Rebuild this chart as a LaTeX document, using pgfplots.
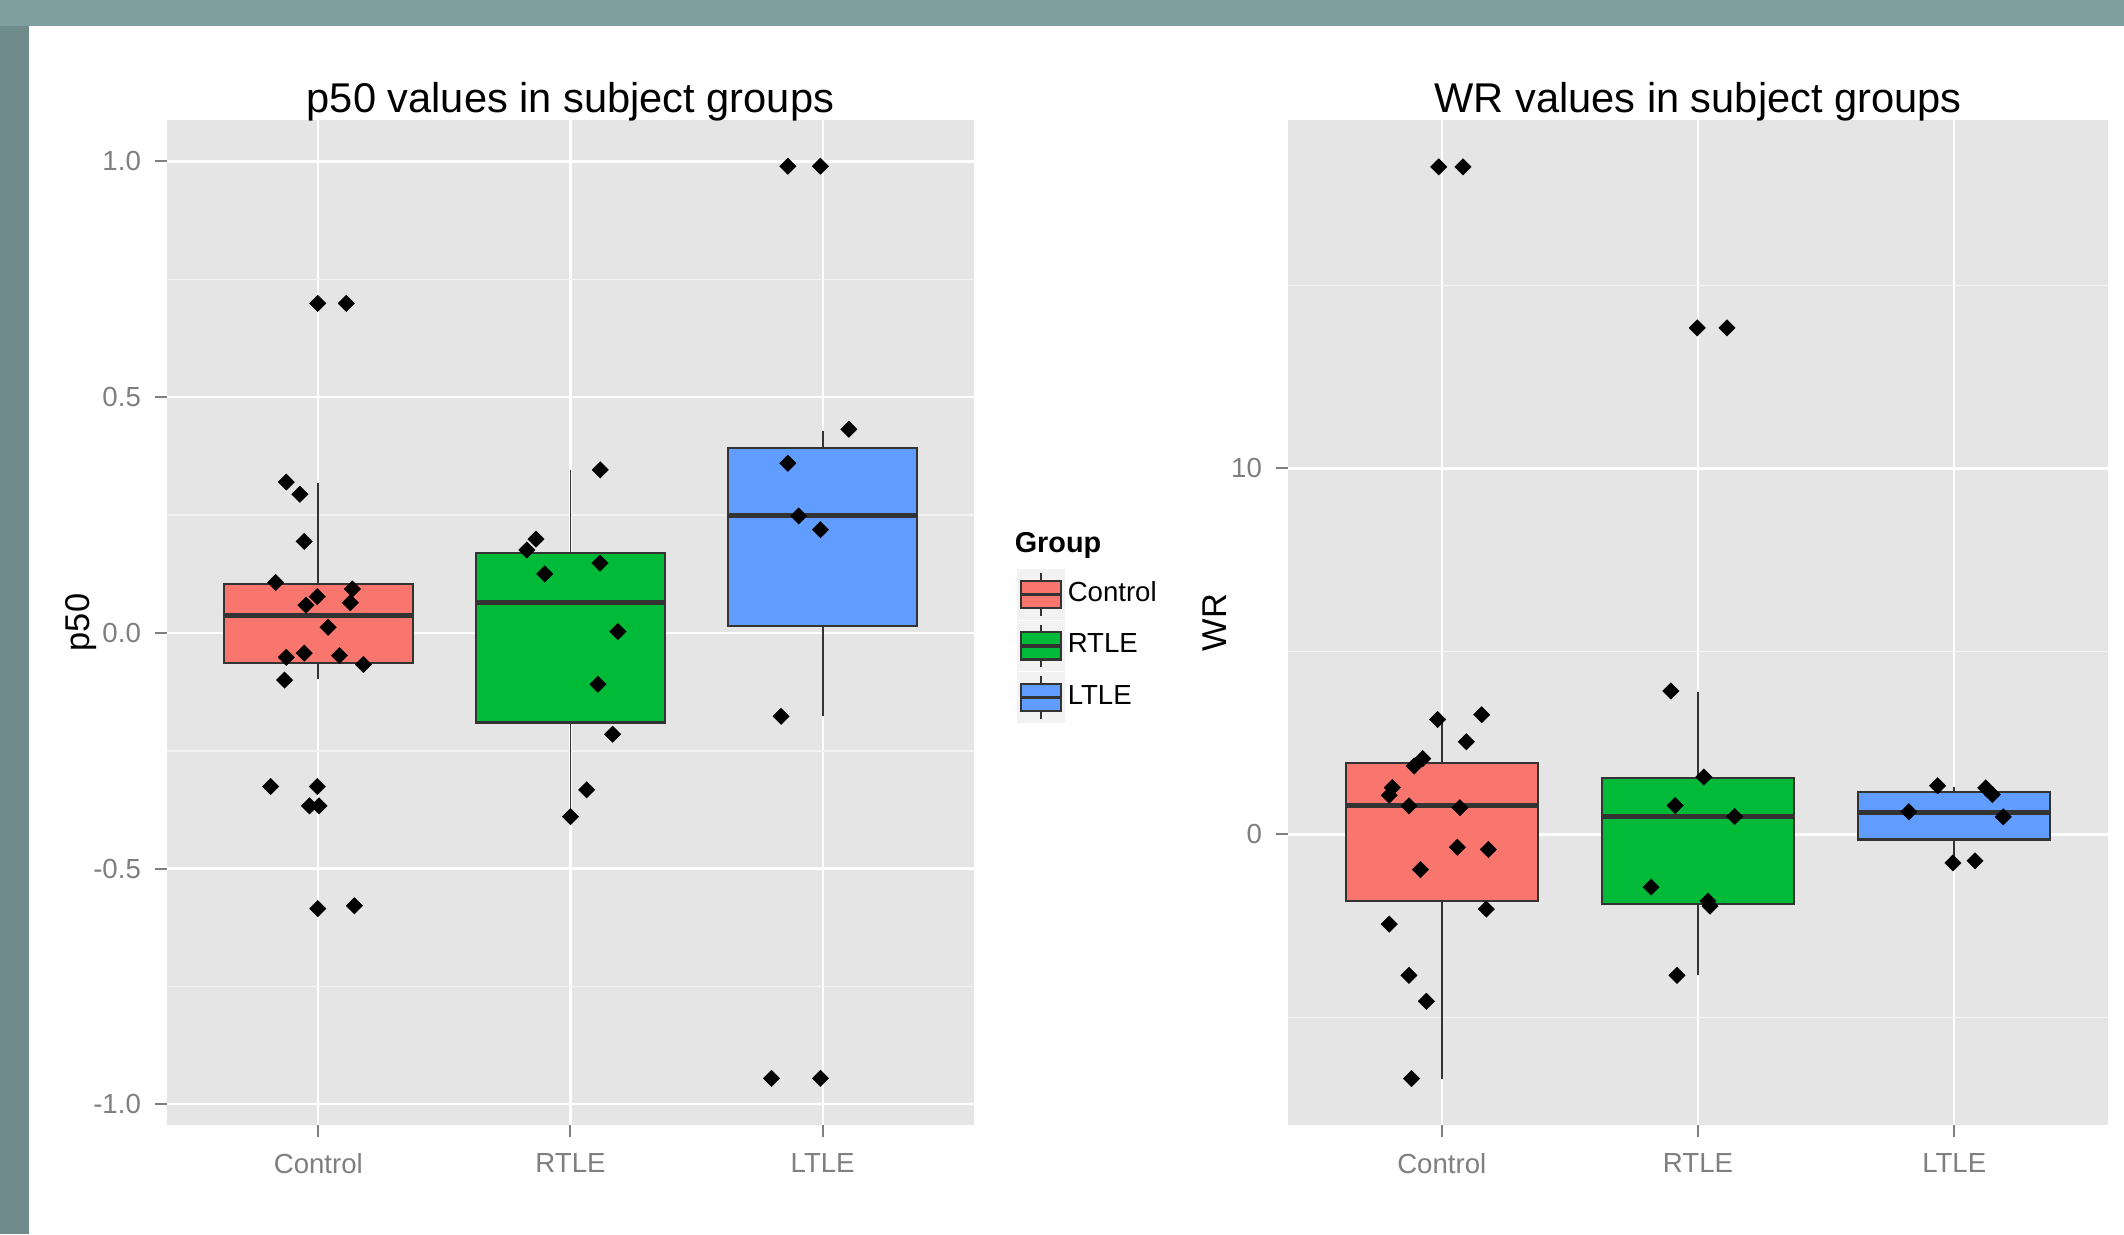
\documentclass[border=0pt]{standalone}
\usepackage{fontspec}
\setmainfont{Liberation Sans}
\usepackage{pgfplots}
\pgfplotsset{compat=1.18}
\usepgfplotslibrary{statistics}

\definecolor{ggred}{HTML}{F8766D}
\definecolor{gggreen}{HTML}{00BA38}
\definecolor{ggblue}{HTML}{619CFF}
\definecolor{ggpanel}{HTML}{E5E5E5}
\definecolor{ggminor}{HTML}{F2F2F2}
\definecolor{ggline}{HTML}{333333}
\definecolor{ggtick}{HTML}{7F7F7F}
\definecolor{framegray}{HTML}{7E9E9F}
\definecolor{framegrayL}{HTML}{6F8B8C}

\pgfplotsset{
  ggbase/.style={
    scale only axis,
    height=251.25pt,
    xmin=0.4, xmax=3.6,
    xtick={1,2,3},
    xticklabels={Control,RTLE,LTLE},
    axis background/.style={fill=ggpanel},
    axis line style={draw=none},
    tick align=outside,
    tick pos=left,
    major tick length=3pt,
    minor tick length=0pt,
    tick style={draw=ggtick, line width=0.5pt},
    xmajorgrids, ymajorgrids, yminorgrids,
    major grid style={draw=white, line width=0.55pt},
    minor grid style={draw=ggminor, line width=0.4pt},
    /pgf/number format/assume math mode=true,
    ticklabel style={font=\fontsize{6.9}{8}\selectfont, text=ggtick},
    xticklabel style={yshift=-0.6pt},
    every axis title/.style={at={(0.5,1)}, anchor=base, yshift=2pt, font=\fontsize{10.4}{12}\selectfont},
    clip=false,
    boxplot/every whisker/.style={line width=0.45pt},
    boxplot/every median/.style={line width=1.25pt},
  },
  ggbox/.style={draw=ggline, line width=0.55pt, fill=#1, forget plot},
  dot/.style={only marks, mark=square*, mark size=1.45pt, color=black,
    mark options={rotate=45, fill=black, draw=black, line width=0.1pt}, forget plot},
}

\begin{document}
\begin{tikzpicture}
\fill[framegray] (0pt,0pt) rectangle (531pt,-308.5pt);
\fill[framegrayL] (0pt,-6.5pt) rectangle (7.25pt,-308.5pt);
\fill[white] (7.25pt,-6.5pt) rectangle (531pt,-308.5pt);

% ---------------- left panel: p50 ----------------
\begin{axis}[ggbase,
  at={(41.75pt,-30pt)}, anchor=north west,
  width=201.75pt,
  ymin=-1.044, ymax=1.088,
  ytick={-1,-0.5,0,0.5,1},
  yticklabels={-1.0,-0.5,0.0,0.5,1.0},
  minor ytick={-0.75,-0.25,0.25,0.75},
  title={p50 values in subject groups},
  ylabel={p50},
  every axis y label/.style={at={(axis description cs:-0.1066,0.5)}, rotate=90, anchor=center, font=\fontsize{8.6}{10}\selectfont},
  legend style={at={(1.052,0.554)}, anchor=north west, draw=none, fill=none,
    inner sep=0pt, row sep=0.25pt, font=\fontsize{6.9}{8}\selectfont,
    nodes={inner sep=0.6pt},
    /tikz/every even column/.append style={column sep=1.6pt}},
  legend cell align=left,
]
\addlegendimage{legend image code/.code={
  \fill[ggminor] (0pt,-6.125pt) rectangle (11.75pt,6.125pt);
  \draw[ggline, line width=0.45pt] (5.875pt,-5.3pt) -- (5.875pt,5.3pt);
  \filldraw[fill=ggred, draw=ggline, line width=0.55pt] (0.8pt,-3.4pt) rectangle (10.95pt,3.4pt);
  \draw[ggline, line width=0.8pt] (0.8pt,0pt) -- (10.95pt,0pt);}}
\addlegendentry{Control}
\addlegendimage{legend image code/.code={
  \fill[ggminor] (0pt,-6.125pt) rectangle (11.75pt,6.125pt);
  \draw[ggline, line width=0.45pt] (5.875pt,-5.3pt) -- (5.875pt,5.3pt);
  \filldraw[fill=gggreen, draw=ggline, line width=0.55pt] (0.8pt,-3.4pt) rectangle (10.95pt,3.4pt);
  \draw[ggline, line width=0.8pt] (0.8pt,0pt) -- (10.95pt,0pt);}}
\addlegendentry{RTLE}
\addlegendimage{legend image code/.code={
  \fill[ggminor] (0pt,-6.125pt) rectangle (11.75pt,6.125pt);
  \draw[ggline, line width=0.45pt] (5.875pt,-5.3pt) -- (5.875pt,5.3pt);
  \filldraw[fill=ggblue, draw=ggline, line width=0.55pt] (0.8pt,-3.4pt) rectangle (10.95pt,3.4pt);
  \draw[ggline, line width=0.8pt] (0.8pt,0pt) -- (10.95pt,0pt);}}
\addlegendentry{LTLE}

\addplot[ggbox=ggred, boxplot prepared={draw direction=y, draw position=1, box extend=0.75, whisker extend=0,
  lower whisker=-0.098, lower quartile=-0.064, median=0.036, upper quartile=0.104, upper whisker=0.317}] coordinates {};
\addplot[ggbox=gggreen, boxplot prepared={draw direction=y, draw position=2, box extend=0.75, whisker extend=0,
  lower whisker=-0.390, lower quartile=-0.190, median=0.064, upper quartile=0.169, upper whisker=0.346}] coordinates {};
\addplot[ggbox=ggblue, boxplot prepared={draw direction=y, draw position=3, box extend=0.75, whisker extend=0,
  lower whisker=-0.177, lower quartile=0.015, median=0.248, upper quartile=0.392, upper whisker=0.429}] coordinates {};

\addplot[dot] coordinates {
 (0.873,0.320) (0.927,0.294) (0.944,0.194) (0.831,0.107) (0.996,0.077)
 (0.951,0.059) (1.135,0.093) (1.127,0.064) (1.039,0.012) (0.873,-0.052)
 (0.944,-0.043) (1.084,-0.048) (1.179,-0.067) (0.866,-0.100) (0.811,-0.326)
 (0.996,-0.326) (0.965,-0.367) (1.003,-0.367) (0.998,0.699) (1.111,0.699)
 (0.998,-0.585) (1.143,-0.579)};
\addplot[dot] coordinates {
 (1.863,0.199) (1.827,0.176) (1.898,0.125) (2.117,0.148) (2.188,0.003)
 (2.109,-0.109) (2.118,0.346) (2.167,-0.215) (2.064,-0.333) (2.000,-0.390)};
\addplot[dot] coordinates {
 (2.862,0.990) (2.991,0.990) (3.104,0.432) (2.862,0.360) (2.905,0.248)
 (2.991,0.219) (2.835,-0.177) (2.797,-0.945) (2.991,-0.945)};

\node[anchor=base west, inner sep=0pt, font=\bfseries\fontsize{7.2}{8}\selectfont] at (rel axis cs:1.0496,0.5692) {Group};
\end{axis}

% ---------------- right panel: WR ----------------
\begin{axis}[ggbase,
  at={(322pt,-30pt)}, anchor=north west,
  width=205pt,
  ymin=-7.94, ymax=19.52,
  ytick={0,10},
  yticklabels={0,10},
  minor ytick={-5,5,15},
  title={WR values in subject groups},
  ylabel={WR},
  every axis y label/.style={at={(axis description cs:-0.089,0.5)}, rotate=90, anchor=center, font=\fontsize{8.6}{10}\selectfont},
]
\addplot[ggbox=ggred, boxplot prepared={draw direction=y, draw position=1, box extend=0.75, whisker extend=0,
  lower whisker=-6.67, lower quartile=-1.82, median=0.79, upper quartile=1.96, upper whisker=3.15}] coordinates {};
\addplot[ggbox=gggreen, boxplot prepared={draw direction=y, draw position=2, box extend=0.75, whisker extend=0,
  lower whisker=-3.85, lower quartile=-1.90, median=0.49, upper quartile=1.54, upper whisker=3.90}] coordinates {};
\addplot[ggbox=ggblue, boxplot prepared={draw direction=y, draw position=3, box extend=0.75, whisker extend=0,
  lower whisker=-0.78, lower quartile=-0.14, median=0.61, upper quartile=1.16, upper whisker=1.30}] coordinates {};

\addplot[dot] coordinates {
 (0.984,3.14) (1.156,3.27) (1.096,2.53) (0.926,2.07) (0.892,1.87)
 (0.807,1.28) (0.795,1.07) (0.872,0.78) (1.071,0.73) (1.061,-0.35)
 (1.182,-0.41) (0.917,-0.96) (1.174,-2.04) (0.795,-2.45) (0.872,-3.85)
 (0.940,-4.56) (0.882,-6.67) (0.988,18.24) (1.083,18.24)};
\addplot[dot] coordinates {
 (1.894,3.92) (2.023,1.57) (1.911,0.79) (2.143,0.49) (1.817,-1.44)
 (2.039,-1.82) (2.047,-1.96) (1.918,-3.85) (1.997,13.84) (2.113,13.84)};
\addplot[dot] coordinates {
 (2.935,1.33) (3.123,1.27) (3.149,1.09) (2.823,0.62) (3.191,0.48)
 (2.995,-0.78) (3.081,-0.72)};
\end{axis}

\pgfresetboundingbox
\useasboundingbox (0pt,0pt) rectangle (531pt,-308.5pt);
\end{tikzpicture}
\end{document}
